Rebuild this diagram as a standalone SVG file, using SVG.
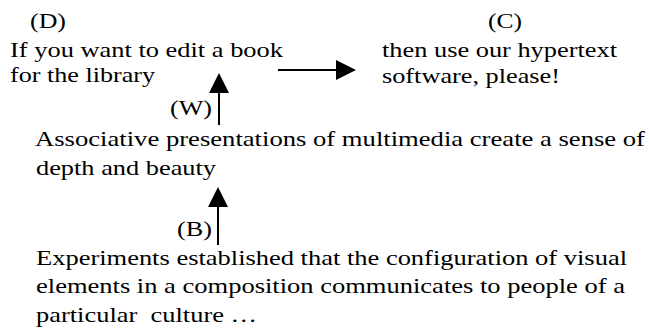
<svg xmlns="http://www.w3.org/2000/svg" width="649" height="333" viewBox="0 0 649 333">
<style>
  text { font-family: "Liberation Serif", "Times New Roman", serif; font-size: 21px; fill: #000; white-space: pre; }
  .conn { stroke: #000; stroke-width: 2; fill: none; marker-end: url(#arrow); }
</style>
<defs>
  <marker id="arrow" markerUnits="userSpaceOnUse" markerWidth="20" markerHeight="20" viewBox="0 0 20 20" refX="0" refY="10" orient="auto">
    <path d="M0,0 L20,10 L0,20 z" fill="#000"/>
  </marker>
</defs>
<rect width="649" height="333" fill="#fff"/>
<g id="node-D">
  <text x="30" y="28" textLength="36" lengthAdjust="spacingAndGlyphs">(D)</text>
  <text x="10" y="57" textLength="273" lengthAdjust="spacingAndGlyphs">If you want to edit a book</text>
  <text x="10" y="82" textLength="145" lengthAdjust="spacingAndGlyphs">for the library</text>
</g>
<g id="node-C">
  <text x="488" y="28" textLength="34" lengthAdjust="spacingAndGlyphs">(C)</text>
  <text x="382" y="57" textLength="235" lengthAdjust="spacingAndGlyphs">then use our hypertext</text>
  <text x="382" y="83" textLength="178" lengthAdjust="spacingAndGlyphs">software, please!</text>
</g>
<g id="node-W">
  <text x="170" y="115" textLength="42" lengthAdjust="spacingAndGlyphs">(W)</text>
  <text x="35" y="146" textLength="610" lengthAdjust="spacingAndGlyphs">Associative presentations of multimedia create a sense of</text>
  <text x="36" y="175" textLength="180" lengthAdjust="spacingAndGlyphs">depth and beauty</text>
</g>
<g id="node-B">
  <text x="177" y="236" textLength="35" lengthAdjust="spacingAndGlyphs">(B)</text>
  <text x="36" y="265" textLength="591" lengthAdjust="spacingAndGlyphs">Experiments established that the configuration of visual</text>
  <text x="36" y="293" textLength="589" lengthAdjust="spacingAndGlyphs">elements in a composition communicates to people of a</text>
  <text x="36" y="322" textLength="221" lengthAdjust="spacingAndGlyphs">particular  culture …</text>
</g>
<g id="connectors">
  <line class="conn" x1="278" y1="70" x2="336" y2="70"/>
  <line class="conn" x1="219" y1="125" x2="219" y2="93"/>
  <line class="conn" x1="218" y1="245" x2="218" y2="207"/>
</g>
</svg>
